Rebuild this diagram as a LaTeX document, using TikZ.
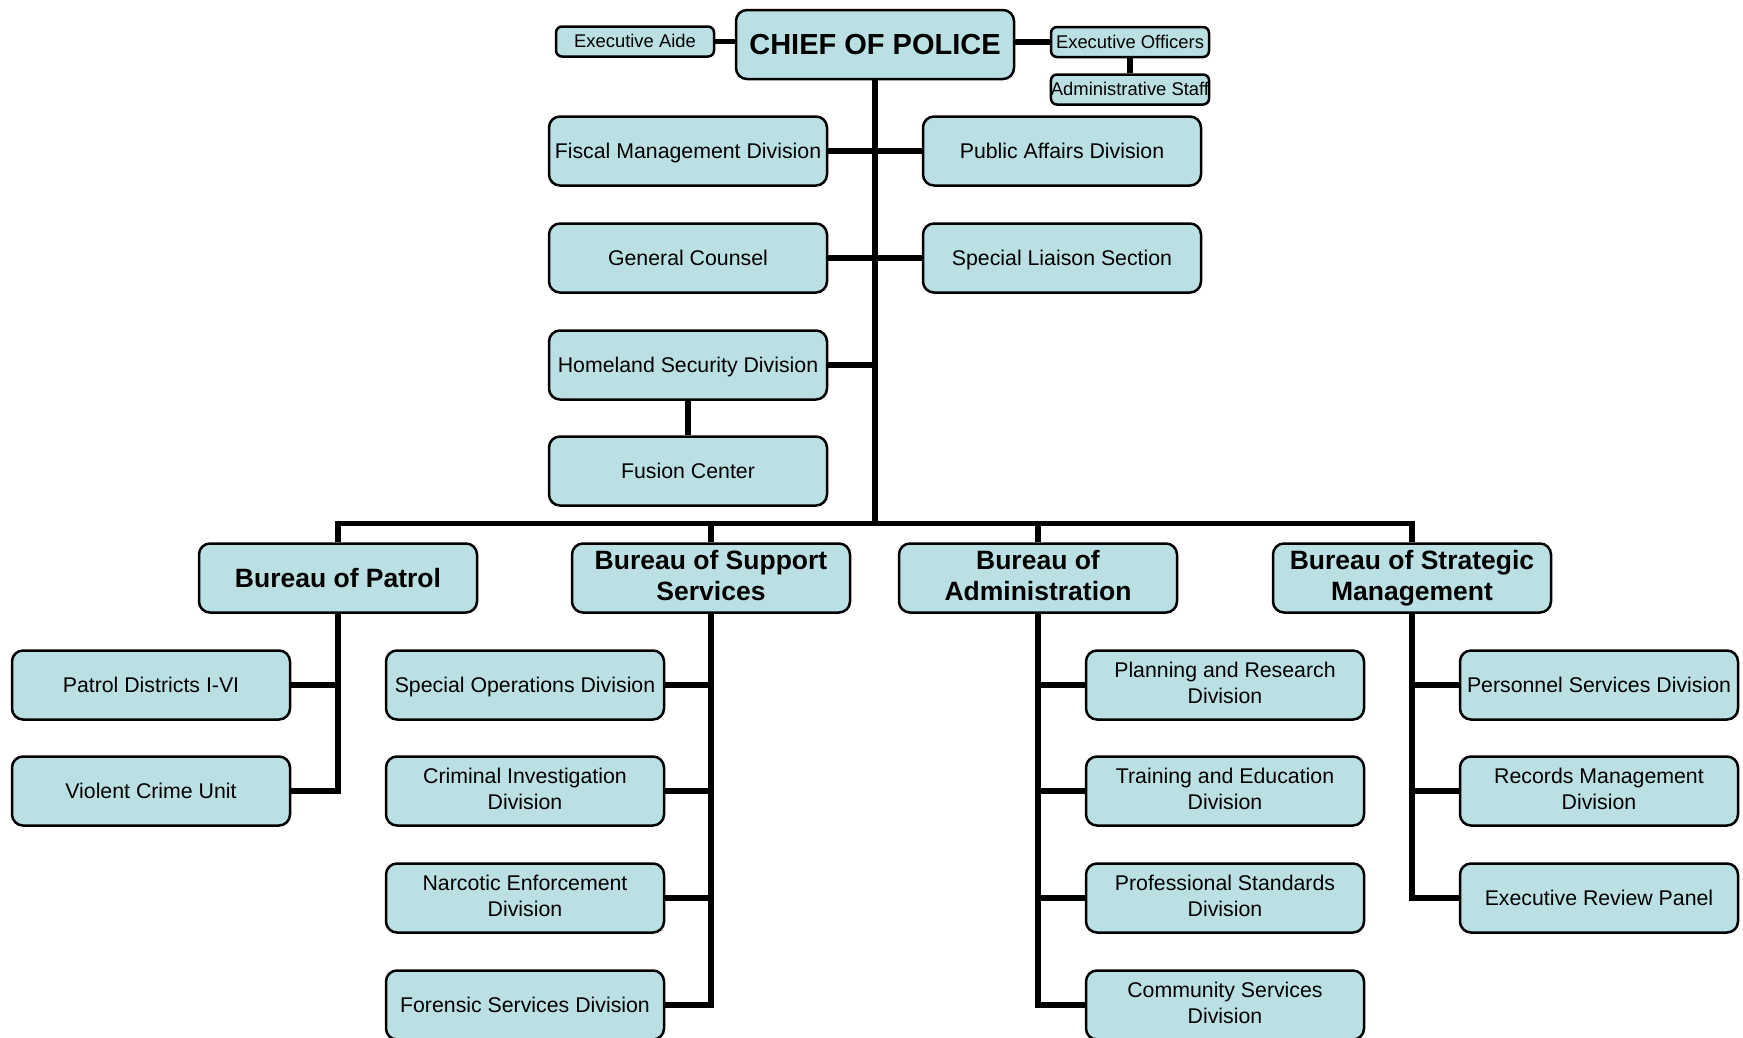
\documentclass[tikz,border=0pt]{standalone}
\usepackage{fontspec}
\setmainfont{Liberation Sans}
\definecolor{boxfill}{RGB}{187,224,227}
\newcommand{\boxstrut}{\rule[-0.212em]{0pt}{1.117em}}
\newcommand{\tallstrut}{\rule[-0.212em]{0pt}{1.32em}}
\begin{document}
\begin{tikzpicture}
[x=1pt,y=-1pt,
 unitdecorate/.style={shape=rectangle,rounded corners=11pt,draw=black,fill=boxfill,line width=2.5pt,%
  minimum width=278pt,minimum height=69pt,inner sep=2pt,align=center,font=\fontsize{21.3}{25.5}\selectfont,%
  execute at begin node=\boxstrut},
 twolinedecorate/.style={execute at begin node=\tallstrut},
 bureaudecorate/.style={unitdecorate,font=\bfseries\fontsize{26.5}{31}\selectfont},
 chiefdecorate/.style={unitdecorate,font=\bfseries\fontsize{29}{34}\selectfont},
 staffdecorate/.style={unitdecorate,rounded corners=6pt,minimum width=158pt,minimum height=30pt,%
  inner sep=0pt,font=\fontsize{18.4}{22}\selectfont},
 linedecorate/.style={-,line width=5.5pt},
 elbow/.style={to path={|- (\tikztotarget)}}]
\useasboundingbox (0,0) rectangle (1743,1037);
% top level
\node (chief) at (875,44.5) [chiefdecorate] {CHIEF OF POLICE};
\node (aide) at (635,41.5) [staffdecorate] {Executive Aide};
\node (officers) at (1130,42) [staffdecorate] {Executive Officers};
\node (adminstaff) at (1130,89.5) [staffdecorate] {Administrative Staff};
\node (fiscal) at (688,151) [unitdecorate] {Fiscal Management Division};
\node (public) at (1062,151) [unitdecorate] {Public Affairs Division};
\node (counsel) at (688,258) [unitdecorate] {General Counsel};
\node (liaison) at (1062,258) [unitdecorate] {Special Liaison Section};
\node (homeland) at (688,365) [unitdecorate] {Homeland Security Division};
\node (fusion) at (688,471) [unitdecorate] {Fusion Center};
\coordinate (hub) at (875,523.5);
% bureaus
\node (patrol) at (338,578) [bureaudecorate] {Bureau of Patrol};
\node (support) at (711,578) [bureaudecorate,twolinedecorate] {Bureau of Support\\Services};
\node (administration) at (1038,578) [bureaudecorate,twolinedecorate] {Bureau of\\Administration};
\node (strategic) at (1412,578) [bureaudecorate,twolinedecorate] {Bureau of Strategic\\Management};
% divisions
\node (districts) at (151,685) [unitdecorate] {Patrol Districts I-VI};
\node (violent) at (151,791) [unitdecorate] {Violent Crime Unit};
\node (specialops) at (525,685) [unitdecorate] {Special Operations Division};
\node (criminal) at (525,791) [unitdecorate,twolinedecorate] {Criminal Investigation\\Division};
\node (narcotic) at (525,898) [unitdecorate,twolinedecorate] {Narcotic Enforcement\\Division};
\node (forensic) at (525,1005) [unitdecorate] {Forensic Services Division};
\node (planning) at (1225,685) [unitdecorate,twolinedecorate] {Planning and Research\\Division};
\node (training) at (1225,791) [unitdecorate,twolinedecorate] {Training and Education\\Division};
\node (professional) at (1225,898) [unitdecorate,twolinedecorate] {Professional Standards\\Division};
\node (community) at (1225,1005) [unitdecorate,twolinedecorate] {Community Services\\Division};
\node (personnel) at (1599,685) [unitdecorate] {Personnel Services Division};
\node (records) at (1599,791) [unitdecorate,twolinedecorate] {Records Management\\Division};
\node (review) at (1599,898) [unitdecorate] {Executive Review Panel};
% edges or lines
\draw[linedecorate] (patrol) |- (hub) -| (strategic);
\path
(chief) edge[linedecorate] (hub)
(aide) edge[linedecorate] (aide.east -| chief.west)
(officers) edge[linedecorate] (officers.west -| chief.east)
(officers) edge[linedecorate] (adminstaff)
(fiscal) edge[linedecorate] (public)
(counsel) edge[linedecorate] (liaison)
(homeland) edge[linedecorate] (homeland.east -| hub)
(homeland) edge[linedecorate] (fusion)
(support) edge[linedecorate] (support |- hub)
(administration) edge[linedecorate] (administration |- hub)
(patrol) edge[linedecorate,elbow] (violent)
(districts) edge[linedecorate] (districts -| patrol)
(support) edge[linedecorate,elbow] (forensic)
(specialops) edge[linedecorate] (specialops -| support)
(criminal) edge[linedecorate] (criminal -| support)
(narcotic) edge[linedecorate] (narcotic -| support)
(administration) edge[linedecorate,elbow] (community)
(planning) edge[linedecorate] (planning -| administration)
(training) edge[linedecorate] (training -| administration)
(professional) edge[linedecorate] (professional -| administration)
(strategic) edge[linedecorate,elbow] (review)
(personnel) edge[linedecorate] (personnel -| strategic)
(records) edge[linedecorate] (records -| strategic);
\end{tikzpicture}
\end{document}
